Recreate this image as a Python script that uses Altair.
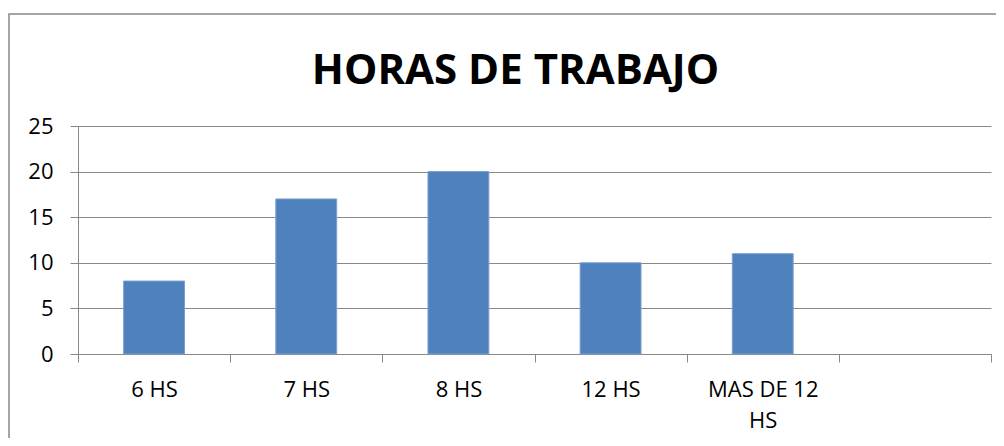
import altair as alt
import pandas as pd

CATEGORIES = ["6 HS", "7 HS", "8 HS", "12 HS", "MAS DE 12 HS", ""]
VALUES = [8, 17, 20, 10, 11, None]
Y_TICKS = [0, 5, 10, 15, 20, 25]
TITLE = "HORAS DE TRABAJO"

df = pd.DataFrame({"cat": CATEGORIES, "val": VALUES})

W, H = 913, 228
FONT = "Open Sans"
GRID = "#888888"

bars = alt.Chart(df).mark_bar(
    color="#4F81BD", stroke="#7A9FD0", strokeWidth=1, width=alt.RelativeBandSize(0.4)
).encode(
    x=alt.X(
        "cat:N",
        sort=CATEGORIES,
        scale=alt.Scale(domain=CATEGORIES, paddingInner=0, paddingOuter=0),
        axis=alt.Axis(
            title=None,
            labelAngle=0,
            labelFont=FONT,
            labelFontSize=22,
            labelColor="black",
            labelPadding=17,
            labelLineHeight=31,
            labelBaseline="top",
            labelExpr="datum.value == 'MAS DE 12 HS' ? ['MAS DE 12', 'HS'] : datum.label",
            tickBand="extent",
            ticks=True,
            tickSize=8,
            tickColor=GRID,
            domainColor=GRID,
            grid=False,
        ),
    ),
    y=alt.Y(
        "val:Q",
        scale=alt.Scale(domain=[0, 25], nice=False),
        axis=alt.Axis(
            title=None,
            values=Y_TICKS,
            labelFont=FONT,
            labelFontSize=22,
            labelColor="black",
            labelPadding=17,
            tickSize=8,
            tickColor=GRID,
            domainColor=GRID,
            gridColor=GRID,
            grid=True,
        ),
    ),
)

frame = alt.Chart(alt.Data(values=[{}])).mark_rect(
    filled=False, stroke=GRID, strokeWidth=1.5
).encode(
    x=alt.value(-69), x2=alt.value(W + 60), y=alt.value(-112), y2=alt.value(H + 150)
)

title = alt.Chart(alt.Data(values=[{"t": TITLE}])).mark_text(
    font=FONT, fontSize=42, fontWeight="bold", color="black",
    align="center", baseline="alphabetic",
).encode(
    text="t:N", x=alt.value(W / 2 - 19), y=alt.value(-42)
)

chart = alt.layer(frame, bars, title).properties(
    width=W,
    height=H,
    autosize=alt.AutoSizeParams(type="none"),
    padding={"left": 70, "top": 118, "right": 5, "bottom": 84},
).configure_view(stroke=None)

chart.save("out.html", embed_options={"renderer": "svg", "actions": False})
